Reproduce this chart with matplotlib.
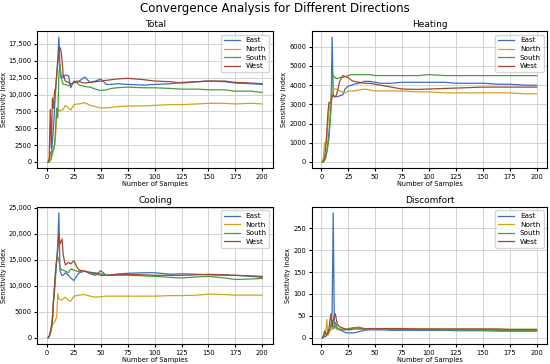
"""Sensitivity index convergence per facade direction, four objectives."""

import matplotlib

matplotlib.use("Agg")
import matplotlib.pyplot as plt
from matplotlib.ticker import FuncFormatter

samples = [1, 2, 3, 4, 5, 6, 7, 8, 9, 10, 11, 12, 13, 14, 15, 17, 20, 22, 25, 28,
           30, 35, 40, 45, 50, 55, 60, 65, 75, 90, 100, 115, 125, 140, 150, 165,
           175, 190, 200]

directions = ["East", "North", "South", "West"]
colors = ["#3b6fc2", "#d1a320", "#4f9a3c", "#a2482f"]

total_east = [0, 200, 1500, 800, 3000, 5000, 8000, 10500, 13000, 15500, 18500, 14000, 12500, 12800,
              12500, 12900, 12800, 11000, 12000, 11800, 12000, 12600, 11800, 12000, 12300, 11500,
              11500, 11600, 11500, 11400, 11500, 11600, 11800, 11900, 12000, 11900, 11700, 11600, 11500]
total_north = [0, 100, 500, 1500, 1000, 2000, 2500, 4000, 7500, 7800, 7500, 7600, 7700, 7700, 7800,
               8400, 8000, 7700, 8500, 8600, 8600, 8800, 8400, 8200, 8000, 8000, 8100, 8200, 8300,
               8300, 8400, 8500, 8500, 8600, 8700, 8700, 8600, 8700, 8600]
total_south = [0, 0, 200, 500, 1500, 1800, 2500, 5000, 8000, 6500, 13000, 14500, 12800, 12000, 11500,
               11500, 11300, 11500, 11800, 11700, 11400, 11200, 11100, 10800, 10600, 10700, 10900,
               11000, 11100, 11000, 11000, 10900, 10800, 10800, 10700, 10700, 10500, 10500, 10300]
total_west = [0, 500, 7800, 2000, 9500, 8000, 10500, 11000, 13000, 14500, 16000, 17000, 16500, 15000,
              13000, 12000, 11800, 11500, 11800, 12000, 11900, 11700, 11800, 11900, 12000, 12100,
              12200, 12300, 12400, 12200, 12000, 11900, 11700, 11900, 12000, 12000, 11800, 11700, 11600]

heating_east = [0, 50, 100, 300, 500, 1000, 1500, 2200, 2800, 6500, 3500, 3400, 3400, 3400, 3400,
                3450, 3500, 3800, 3950, 4000, 4050, 4100, 4200, 4200, 4150, 4100, 4100, 4100, 4150,
                4150, 4150, 4150, 4100, 4100, 4100, 4050, 4050, 4000, 4000]
heating_north = [0, 300, 1000, 900, 1200, 2000, 2600, 3000, 3200, 3500, 3800, 3800, 3800, 3800, 3750,
                 3700, 3650, 3600, 3700, 3700, 3700, 3750, 3800, 3750, 3700, 3700, 3700, 3700, 3700,
                 3650, 3650, 3600, 3600, 3600, 3600, 3600, 3600, 3550, 3550]
heating_south = [0, 0, 100, 200, 500, 800, 1200, 2000, 3000, 4600, 4500, 4400, 4400, 4350, 4350,
                 4400, 4400, 4450, 4500, 4550, 4550, 4550, 4550, 4550, 4500, 4500, 4500, 4500, 4500,
                 4500, 4550, 4500, 4500, 4500, 4500, 4500, 4500, 4500, 4500]
heating_west = [0, 100, 200, 800, 1500, 2500, 3100, 3100, 3100, 3400, 3500, 3400, 3400, 3500, 3700,
                4200, 4500, 4450, 4400, 4250, 4200, 4150, 4100, 4100, 4050, 4000, 3950, 3900, 3800,
                3780, 3800, 3830, 3850, 3880, 3900, 3900, 3900, 3900, 3900]

cooling_east = [0, 200, 800, 2000, 4000, 7000, 9000, 12000, 15000, 18000, 24000, 13000, 12300, 12000,
                12000, 12500, 12000, 11500, 11000, 12000, 12500, 12800, 12300, 12000, 12900, 12000,
                12100, 12200, 12400, 12500, 12500, 12200, 12300, 12200, 12100, 12000, 12000, 11800, 11600]
cooling_north = [0, 300, 1000, 2000, 2500, 2800, 3000, 3500, 4000, 8500, 7500, 7300, 7200, 7300, 7500,
                 7800, 7200, 7000, 8000, 8100, 8200, 8300, 8000, 7800, 7900, 8000, 8000, 8000, 8000,
                 8000, 8000, 8100, 8100, 8200, 8400, 8300, 8200, 8200, 8200]
cooling_south = [0, 200, 800, 1500, 3000, 7000, 10000, 13000, 15000, 15500, 15000, 13500, 13200, 13000,
                 13000, 12800, 12500, 13200, 13000, 12800, 12700, 12800, 12600, 12500, 12300, 12000,
                 12000, 12000, 12000, 11900, 11800, 11600, 11500, 11700, 11800, 11500, 11200, 11300, 11400]
cooling_west = [0, 300, 1000, 2000, 3500, 7000, 10000, 13000, 15000, 17000, 20000, 18000, 18500, 19000,
                16000, 14000, 14500, 14200, 14800, 13500, 13000, 12800, 12500, 12300, 12000, 12000,
                12100, 12200, 12200, 12100, 12000, 12000, 12000, 12100, 12200, 12100, 12000, 11900, 11800]

discomfort_east = [0, 1, 2, 3, 5, 8, 15, 20, 30, 60, 285, 30, 25, 22, 20, 18, 15, 12, 11, 11, 11, 14,
                   17, 18, 18, 18, 18, 17, 17, 17, 17, 17, 16, 16, 16, 15, 15, 15, 15]
discomfort_north = [0, 5, 15, 10, 42, 5, 10, 15, 18, 20, 22, 25, 22, 20, 18, 19, 20, 20, 21, 22, 22,
                    22, 20, 20, 20, 20, 20, 20, 20, 20, 20, 20, 20, 20, 20, 19, 19, 19, 19]
discomfort_south = [0, 2, 5, 8, 10, 12, 15, 20, 25, 40, 20, 25, 35, 28, 22, 20, 18, 18, 20, 22, 23,
                    24, 21, 20, 20, 19, 19, 19, 19, 19, 19, 18, 18, 18, 18, 17, 17, 17, 17]
discomfort_west = [0, 5, 15, 10, 8, 10, 20, 40, 55, 25, 40, 50, 55, 40, 30, 25, 22, 20, 18, 19, 20,
                   20, 20, 21, 21, 21, 21, 21, 21, 20, 20, 20, 20, 20, 20, 20, 19, 19, 19]

panels = [
    ("Total", [total_east, total_north, total_south, total_west]),
    ("Heating", [heating_east, heating_north, heating_south, heating_west]),
    ("Cooling", [cooling_east, cooling_north, cooling_south, cooling_west]),
    ("Discomfort", [discomfort_east, discomfort_north, discomfort_south, discomfort_west]),
]


def fmt(v, _pos):
    # thousands separator only from five digits on, as in the source figure
    return f"{v:,.0f}" if abs(v) >= 10000 else f"{v:.0f}"


fig, axes = plt.subplots(2, 2, figsize=(5.5, 3.64), dpi=100)
fig.subplots_adjust(left=0.068, right=0.995, top=0.915, bottom=0.055, wspace=0.165, hspace=0.28)
fig.suptitle("Convergence Analysis for Different Directions", fontsize=8.5, y=0.995)

for ax, (title, series) in zip(axes.flat, panels):
    for name, vals, c in zip(directions, series, colors):
        ax.plot(samples, vals, color=c, lw=0.9, label=name)
    ax.set_title(title, fontsize=6.5, pad=3)
    ax.set_xlabel("Number of Samples", fontsize=4.8, labelpad=1)
    ax.set_ylabel("Sensitivity Index", fontsize=4.8, labelpad=1.5)
    ax.set_xticks(range(0, 201, 25))
    ax.yaxis.set_major_formatter(FuncFormatter(fmt))
    ax.tick_params(labelsize=4.8, length=2.5, pad=1.5)
    ax.grid(True, color="#cccccc", lw=0.6)
    ax.legend(loc="upper right", fontsize=5.2, handlelength=2.2, borderpad=0.4, labelspacing=0.35)

fig.savefig("out.png", dpi=100)
plt.close(fig)
